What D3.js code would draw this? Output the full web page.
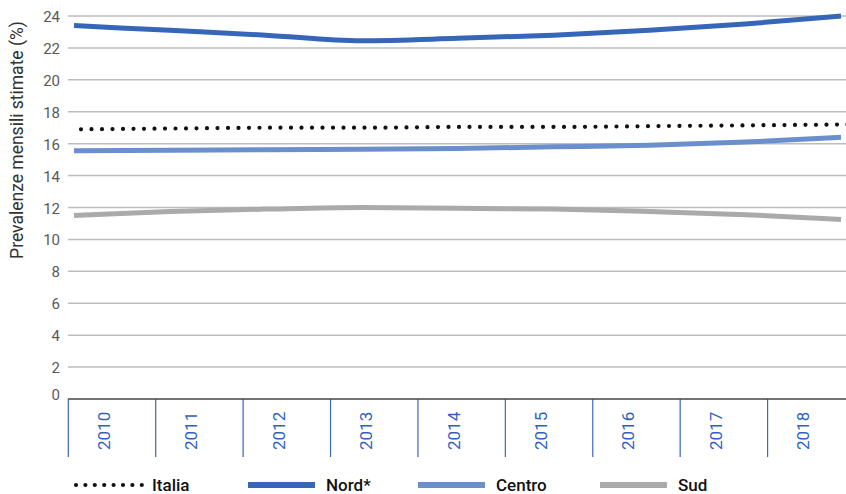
<!DOCTYPE html>
<html>
<head>
<meta charset="utf-8">
<script src="https://cdn.jsdelivr.net/npm/d3@7"></script>
<style>
  body { margin: 0; background: #fff; }
  svg { display: block; font-family: "Roboto", "Liberation Sans", sans-serif; }
</style>
</head>
<body>
<svg id="chart" width="846" height="494"></svg>
<script>
// data
const years = ["2010", "2011", "2012", "2013", "2014", "2015", "2016", "2017", "2018"];
const italia = [16.9, 16.95, 17.0, 17.0, 17.05, 17.05, 17.1, 17.15, 17.2];
const nord = [23.4, 23.1, 22.8, 22.45, 22.6, 22.8, 23.1, 23.5, 24.0];
const centro = [15.55, 15.58, 15.62, 15.65, 15.7, 15.8, 15.9, 16.1, 16.4];
const sud = [11.5, 11.75, 11.9, 12.0, 11.95, 11.9, 11.75, 11.55, 11.25];
const yTicks = [0, 2, 4, 6, 8, 10, 12, 14, 16, 18, 20, 22, 24];

const series = [
  { name: "Italia", values: italia, color: "#111", dotted: true },
  { name: "Nord*", values: nord, color: "#3566b8" },
  { name: "Centro", values: centro, color: "#6a8fcc" },
  { name: "Sud", values: sud, color: "#aaaaaa" }
];

const svg = d3.select("#chart");

// scales
const x = d3.scaleBand().domain(years).range([68.3, 855]);
const xLine = d3.scalePoint().domain(years).range([74, 841]);
const y = d3.scaleLinear().domain([0, 24]).range([399, 16]);

// grid lines + y labels
svg.append("g")
  .selectAll("line")
  .data(yTicks.filter(d => d > 0))
  .join("line")
  .attr("x1", 68).attr("x2", 846)
  .attr("y1", d => y(d)).attr("y2", d => y(d))
  .attr("stroke", "#bdbdbd")
  .attr("stroke-width", 1.5);

svg.append("g")
  .selectAll("text")
  .data(yTicks)
  .join("text")
  .attr("x", 60)
  .attr("y", d => d === 0 ? y(d) + 1 : y(d) + 6)
  .attr("text-anchor", "end")
  .attr("fill", "#595959")
  .style("font-size", "15px")
  .text(d => d);

svg.append("text")
  .attr("transform", "translate(23,140) rotate(-90)")
  .attr("text-anchor", "middle")
  .attr("fill", "#333")
  .style("font-size", "17.5px")
  .text("Prevalenze mensili stimate (%)");

// category axis: separators and rotated year labels
const xg = svg.append("g");
xg.selectAll("line.sep")
  .data(years)
  .join("line")
  .attr("class", "sep")
  .attr("x1", d => x(d)).attr("x2", d => x(d))
  .attr("y1", 399).attr("y2", 457)
  .attr("stroke", "#3a65c0")
  .attr("stroke-width", 1.2);

xg.selectAll("text")
  .data(years)
  .join("text")
  .attr("transform", d => `translate(${x(d) + x.bandwidth() / 2 - 2},450) rotate(-90)`)
  .attr("fill", "#2f5fc0")
  .style("font-size", "17px")
  .text(d => d);

svg.append("line")
  .attr("x1", 68).attr("x2", 846)
  .attr("y1", 399).attr("y2", 399)
  .attr("stroke", "#444")
  .attr("stroke-width", 1.5);

// lines
const line = d3.line()
  .x((d, i) => xLine(years[i]))
  .y(d => y(d))
  .curve(d3.curveMonotoneX);

const order = [series[3], series[2], series[1], series[0]];
svg.append("g")
  .selectAll("path")
  .data(order)
  .join("path")
  .attr("d", d => line(d.values))
  .attr("fill", "none")
  .attr("stroke", d => d.color)
  .attr("stroke-width", d => d.dotted ? 4.2 : 5)
  .attr("stroke-linecap", d => d.dotted ? "round" : "butt")
  .attr("stroke-dasharray", d => d.dotted ? "0 10.5" : null)
  .attr("transform", d => d.dotted ? "translate(7,0)" : null);

// legend
const legendX = [76, 248, 418, 600];
const legend = svg.append("g")
  .selectAll("g")
  .data(series)
  .join("g")
  .attr("transform", (d, i) => `translate(${legendX[i]},485)`);

legend.append("line")
  .attr("x1", 0)
  .attr("x2", 67)
  .attr("stroke", d => d.color)
  .attr("stroke-width", d => d.dotted ? 4.2 : 6)
  .attr("stroke-linecap", d => d.dotted ? "round" : "butt")
  .attr("stroke-dasharray", d => d.dotted ? "0 9.4" : null);

legend.append("text")
  .attr("x", d => d.dotted ? 76 : 78)
  .attr("y", 6)
  .attr("fill", "#111")
  .style("font-size", "17px")
  .style("font-weight", 500)
  .text(d => d.name);
</script>
</body>
</html>
